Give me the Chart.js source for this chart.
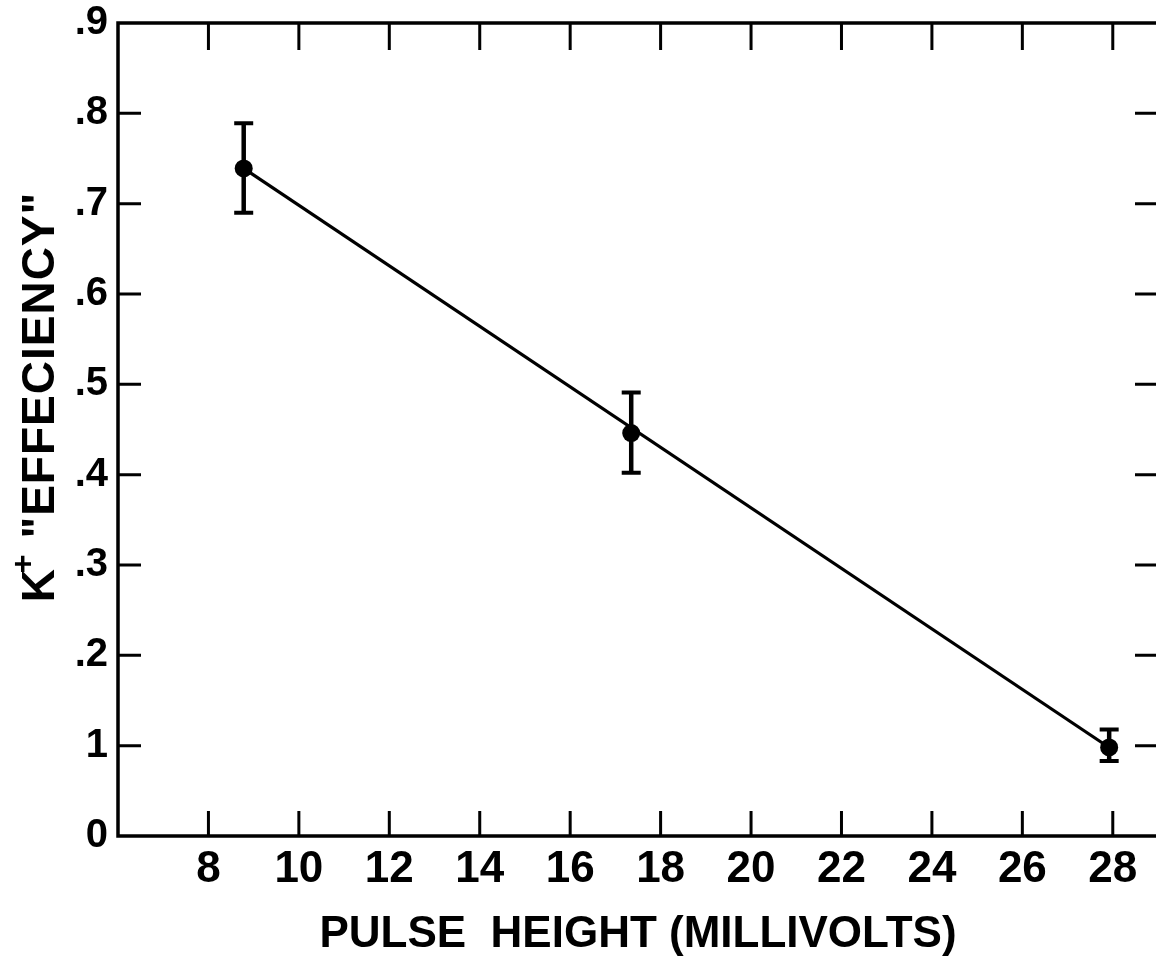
<!DOCTYPE html>
<html>
<head>
<meta charset="utf-8">
<title>K+ efficiency vs pulse height</title>
<script src="https://cdn.jsdelivr.net/npm/chart.js@4.4.1/dist/chart.umd.min.js"></script>
<style>
  html, body { margin: 0; padding: 0; background: #fff; overflow: hidden; }
</style>
</head>
<body>
<canvas id="effChart" width="1180" height="970"></canvas>
<script>
// measured points (pulse height in mV, efficiency) with error limits
const pulseHeight = [8.78, 17.35, 27.92];
const efficiency  = [0.739, 0.446, 0.098];
const effLow      = [0.690, 0.402, 0.083];
const effHigh     = [0.789, 0.491, 0.118];

// straight-line fit drawn through the data
const fitPulse = [8.78, 27.92];
const fitEff   = [0.739, 0.098];

// axis ticks
const xTickValues = [8, 10, 12, 14, 16, 18, 20, 22, 24, 26, 28];
const yTickValues = [0, 0.1, 0.2, 0.3, 0.4, 0.5, 0.6, 0.7, 0.8, 0.9];
const yTickLabels = ['0', '1', '.2', '.3', '.4', '.5', '.6', '.7', '.8', '.9'];

const X_MIN = 6, X_MAX = 29, Y_MIN = 0, Y_MAX = 0.9;
const FONT = "'Liberation Sans', Arial, sans-serif";
const INK = '#000';

// box around the plot with inward ticks on all four sides
const frameAndTicks = {
  id: 'frameAndTicks',
  afterDraw(chart) {
    const { ctx, chartArea: a, scales: { x, y } } = chart;
    ctx.save();
    ctx.strokeStyle = INK;
    ctx.lineWidth = 3.5;
    ctx.strokeRect(a.left, a.top, a.right - a.left, a.bottom - a.top);
    ctx.lineWidth = 3;
    ctx.beginPath();
    xTickValues.forEach(v => {
      const px = x.getPixelForValue(v);
      ctx.moveTo(px, a.bottom); ctx.lineTo(px, a.bottom - 25);
      ctx.moveTo(px, a.top);    ctx.lineTo(px, a.top + 27);
    });
    yTickValues.forEach(v => {
      if (v === Y_MIN || v === Y_MAX) return;
      const py = y.getPixelForValue(v);
      ctx.moveTo(a.left, py);  ctx.lineTo(a.left + 23, py);
      ctx.moveTo(a.right, py); ctx.lineTo(a.right - 23, py);
    });
    ctx.stroke();
    ctx.restore();
  }
};

// vertical error bars with flat caps
const errorBars = {
  id: 'errorBars',
  afterDatasetsDraw(chart) {
    const { ctx, scales: { x, y } } = chart;
    ctx.save();
    ctx.strokeStyle = INK;
    ctx.lineCap = 'butt';
    pulseHeight.forEach((p, i) => {
      const px = x.getPixelForValue(p);
      const top = y.getPixelForValue(effHigh[i]);
      const bot = y.getPixelForValue(effLow[i]);
      ctx.lineWidth = 4.5;
      ctx.beginPath();
      ctx.moveTo(px, top); ctx.lineTo(px, bot);
      ctx.stroke();
      ctx.lineWidth = 4;
      ctx.beginPath();
      ctx.moveTo(px - 9.5, top); ctx.lineTo(px + 9.5, top);
      ctx.moveTo(px - 9.5, bot); ctx.lineTo(px + 9.5, bot);
      ctx.stroke();
    });
    ctx.restore();
  }
};

// rotated y title with a superscript plus on the K
const yTitle = {
  id: 'yTitle',
  afterDraw(chart) {
    const { ctx } = chart;
    const main = `bold 46px ${FONT}`;
    const sup = `bold 32px ${FONT}`;
    const rest = ' "EFFECIENCY"';
    ctx.save();
    ctx.fillStyle = INK;
    ctx.translate(41, 397);
    ctx.rotate(-Math.PI / 2);
    ctx.textBaseline = 'middle';
    ctx.letterSpacing = '1px';
    ctx.font = main;
    const wK = ctx.measureText('K').width;
    const wRest = ctx.measureText(rest).width;
    ctx.font = sup;
    const wPlus = ctx.measureText('+').width * 0.8;
    const total = wK + wPlus + wRest;
    let cx = -total / 2;
    ctx.font = main;
    ctx.fillText('K', cx, 0);
    cx += wK;
    ctx.font = sup;
    ctx.fillText('+', cx - 5, -17);
    cx += wPlus;
    ctx.font = main;
    ctx.fillText(rest, cx, 0);
    ctx.restore();
  }
};

new Chart(document.getElementById('effChart'), {
  type: 'scatter',
  data: {
    datasets: [
      {
        label: 'fit',
        data: fitPulse.map((p, i) => ({ x: p, y: fitEff[i] })),
        showLine: true,
        borderColor: INK,
        borderWidth: 3.2,
        pointRadius: 0,
        fill: false
      },
      {
        label: 'data',
        data: pulseHeight.map((p, i) => ({ x: p, y: efficiency[i] })),
        backgroundColor: INK,
        borderColor: INK,
        borderWidth: 0,
        pointRadius: 9,
        pointHoverRadius: 9
      }
    ]
  },
  options: {
    responsive: false,
    animation: false,
    events: [],
    layout: { padding: { top: 23, right: 22, left: 0, bottom: 0 } },
    plugins: { legend: { display: false }, tooltip: { enabled: false } },
    scales: {
      x: {
        type: 'linear',
        min: X_MIN,
        max: X_MAX,
        afterBuildTicks: s => { s.ticks = xTickValues.map(v => ({ value: v })); },
        afterFit: s => { s.height = 134; s.paddingLeft = 0; s.paddingRight = 0; },
        grid: { display: false, drawTicks: false },
        border: { display: false },
        ticks: {
          autoSkip: false,
          maxRotation: 0,
          padding: 12,
          color: INK,
          font: { family: FONT, size: 44, weight: 'bold', lineHeight: 1 },
          callback: v => String(v)
        },
        title: {
          display: true,
          text: 'PULSE  HEIGHT (MILLIVOLTS)',
          color: INK,
          font: { family: FONT, size: 44, weight: 'bold', lineHeight: 1 },
          padding: { top: 0, bottom: 13 }
        }
      },
      y: {
        type: 'linear',
        min: Y_MIN,
        max: Y_MAX,
        afterBuildTicks: s => { s.ticks = yTickValues.map(v => ({ value: v })); },
        afterFit: s => { s.width = 118; s.paddingTop = 0; s.paddingBottom = 0; },
        grid: { display: false, drawTicks: false },
        border: { display: false },
        ticks: {
          autoSkip: false,
          padding: 10,
          color: INK,
          font: { family: FONT, size: 40, weight: 'bold', lineHeight: 1 },
          callback: (v, i) => yTickLabels[i]
        }
      }
    }
  },
  plugins: [frameAndTicks, errorBars, yTitle]
});
</script>
</body>
</html>
